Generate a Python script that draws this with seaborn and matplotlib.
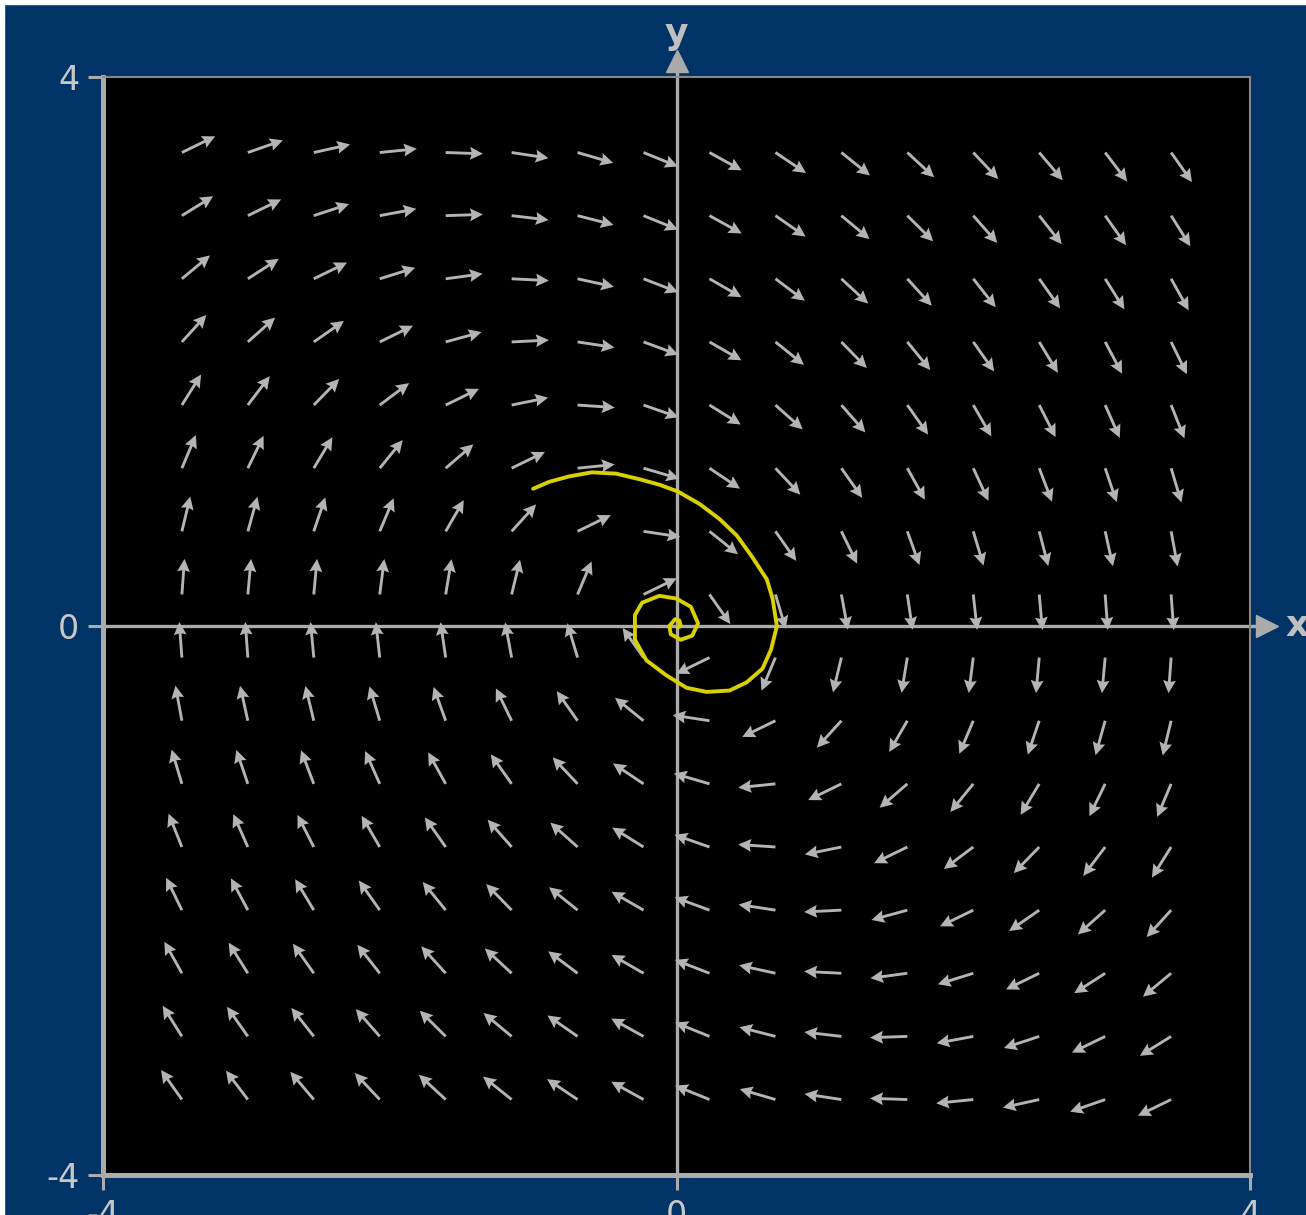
import numpy as np
import matplotlib
matplotlib.use("Agg")
import matplotlib.pyplot as plt
from matplotlib.patches import Rectangle
import seaborn as sns

# positions of the direction arrows (tails)
grid_x = [-3.45, -2.99, -2.53, -2.07, -1.61, -1.15, -0.69, -0.23,
          0.23, 0.69, 1.15, 1.61, 2.07, 2.53, 2.99, 3.45]
grid_y = [3.45, 2.99, 2.53, 2.07, 1.61, 1.15, 0.69, 0.23,
          -0.23, -0.69, -1.15, -1.61, -2.07, -2.53, -2.99, -3.45]

# arrow direction in degrees, one row per grid_y value (top to bottom)
angle_rows = [
    [27, 20, 13, 6, -2, -9, -17, -23, -30, -35, -40, -44, -48, -51, -54, -56],
    [33, 27, 19, 11, 2, -7, -15, -23, -30, -36, -41, -46, -50, -53, -56, -59],
    [41, 34, 27, 18, 8, -3, -13, -22, -31, -38, -44, -49, -53, -56, -59, -62],
    [49, 43, 36, 27, 16, 3, -9, -21, -31, -40, -47, -52, -56, -60, -63, -65],
    [59, 54, 47, 38, 27, 12, -4, -20, -33, -43, -50, -56, -61, -64, -67, -69],
    [68, 65, 60, 52, 42, 27, 6, -17, -35, -48, -56, -62, -66, -70, -72, -74],
    [77, 75, 72, 68, 61, 49, 27, -9, -40, -56, -65, -71, -74, -76, -78, -80],
    [86, 85, 85, 83, 81, 77, 68, 27, -56, -74, -80, -82, -84, -85, -86, -86],
    [94, 94, 95, 96, 98, 100, 106, 124, -153, -112, -103, -99, -97, -95, -95, -94],
    [100, 102, 103, 106, 109, 115, 124, 140, 171, -153, -131, -119, -112, -108, -105, -103],
    [106, 108, 110, 113, 118, 124, 132, 145, 163, -174, -153, -138, -128, -120, -115, -112],
    [111, 113, 116, 119, 124, 130, 137, 147, 160, 176, -168, -153, -142, -133, -126, -121],
    [115, 117, 120, 124, 128, 133, 140, 149, 159, 171, -177, -164, -153, -144, -137, -131],
    [118, 121, 124, 127, 131, 136, 142, 149, 158, 167, 177, -172, -162, -153, -146, -139],
    [121, 124, 127, 130, 134, 139, 144, 150, 157, 165, 173, -178, -169, -161, -153, -147],
    [124, 126, 129, 132, 136, 140, 145, 150, 157, 163, 171, 178, -174, -167, -160, -153],
]

# yellow trajectory
spiral_x = [-1.00, -0.89, -0.75, -0.59, -0.42, -0.26, -0.12, 0.01, 0.16, 0.30,
            0.42, 0.53, 0.63, 0.67, 0.70, 0.66, 0.60, 0.49, 0.37, 0.21,
            0.07, -0.07, -0.21, -0.29, -0.29, -0.24, -0.12, 0.00, 0.10, 0.15,
            0.11, 0.03, -0.04, -0.05, -0.01, 0.02, 0.03, 0.01]
spiral_y = [1.00, 1.05, 1.09, 1.12, 1.11, 1.07, 1.03, 0.98, 0.89, 0.78,
            0.66, 0.50, 0.34, 0.20, 0.00, -0.17, -0.31, -0.41, -0.47, -0.48,
            -0.45, -0.36, -0.25, -0.10, 0.08, 0.17, 0.22, 0.20, 0.14, 0.02,
            -0.07, -0.10, -0.06, 0.00, 0.05, 0.04, 0.00, -0.01]

ticks = [-4, 0, 4]
tick_labels = ['-4', '0', '4']

navy = '#003366'
gray = '#ababab'

sns.set_theme(style="dark")
plt.rcParams['font.family'] = ['DejaVu Sans']

fig = plt.figure(figsize=(13.06, 12.15), dpi=100, facecolor=navy)
ax = fig.add_axes([0.0789, 0.0329, 0.8782, 0.9037])
ax.set_facecolor('black')

# direction field
gx, gy = np.meshgrid(grid_x, grid_y)
ang = np.radians(np.array(angle_rows))
arrow_len = 0.26
ax.quiver(gx, gy, arrow_len * np.cos(ang), arrow_len * np.sin(ang),
          angles='xy', scale_units='xy', scale=1, pivot='tail',
          color='#b4b4b4', width=0.0025, headwidth=4.5, headlength=4.5,
          headaxislength=4, zorder=3)

# coordinate axes through the origin, with arrow heads outside the frame
ax.plot([0, 0], [-4, 4.1], color=gray, lw=2.4, clip_on=False, zorder=2)
ax.plot([-4, 4.1], [0, 0], color=gray, lw=2.4, clip_on=False, zorder=2)
ax.plot([0], [4.12], marker='^', ms=16, color=gray, clip_on=False, zorder=2)
ax.plot([4.12], [0], marker='>', ms=16, color=gray, clip_on=False, zorder=2)
ax.text(0, 4.31, 'y', ha='center', va='center', fontsize=26, fontweight='bold',
        color='#c0c0c0', clip_on=False)
ax.text(4.33, 0, 'x', ha='center', va='center', fontsize=26, fontweight='bold',
        color='#c0c0c0', clip_on=False)

# trajectory
sns.lineplot(x=spiral_x, y=spiral_y, sort=False, estimator=None,
             color='#d8d000', lw=2.8, ax=ax, zorder=4)

ax.set_xlim(-4, 4)
ax.set_ylim(-4, 4)
ax.grid(False)
ax.set_xticks(ticks)
ax.set_yticks(ticks)
ax.set_xticklabels(tick_labels)
ax.set_yticklabels(tick_labels)
ax.tick_params(bottom=True, left=True, direction='out', length=11, width=2.2,
               color=gray, labelcolor='#c8c8c8', labelsize=24, pad=6)

for side in ['left', 'bottom']:
    ax.spines[side].set_visible(True)
    ax.spines[side].set_color(gray)
    ax.spines[side].set_linewidth(3.6)
for side in ['top', 'right']:
    ax.spines[side].set_visible(True)
    ax.spines[side].set_color('#888888')
    ax.spines[side].set_linewidth(1.5)

# thin white margin at top and left edges
fig.patches.append(Rectangle((0, 1 - 4 / 1215), 1, 4 / 1215, transform=fig.transFigure,
                             color='white', zorder=10))
fig.patches.append(Rectangle((0, 0), 4 / 1306, 1, transform=fig.transFigure,
                             color='white', zorder=10))

fig.savefig('out.png', dpi=100, facecolor=fig.get_facecolor())
